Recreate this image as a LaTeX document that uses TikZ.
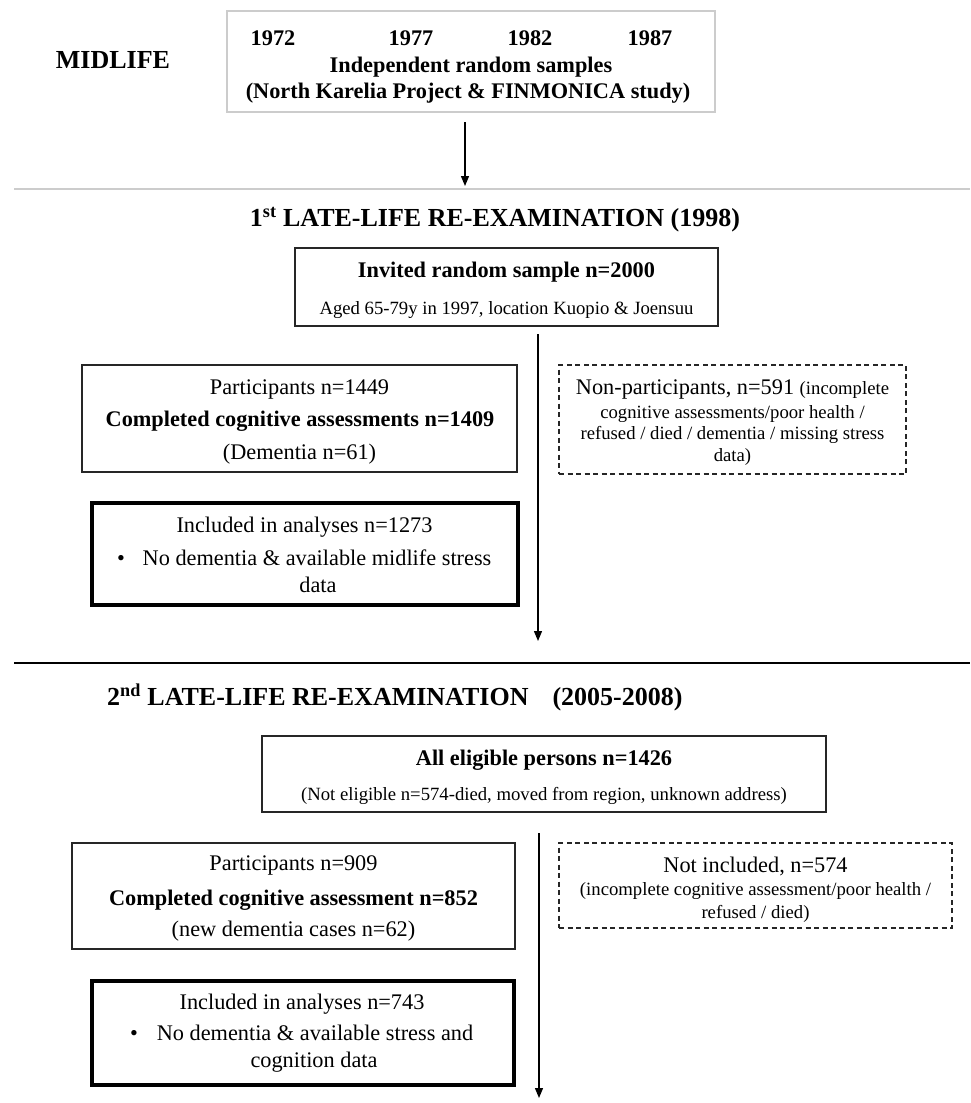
\documentclass[tikz,border=0pt]{standalone}
\usepackage{fontspec}
\setmainfont{Liberation Serif}
\usetikzlibrary{arrows.meta}
\newcommand{\bigf}{\fontsize{22.3}{26}\selectfont}
\newcommand{\smf}{\fontsize{18.7}{22}\selectfont}
\newcommand{\headf}{\fontsize{26}{30}\selectfont\bfseries}
\begin{document}
\begin{tikzpicture}[x=1pt,y=-1pt,
  frame/.style={draw=black!85, line width=1.3pt, rectangle, inner sep=0pt},
  graybox/.style={draw=black!20, line width=2pt, rectangle, inner sep=0pt},
  thickbox/.style={draw=black, line width=3.5pt, rectangle, inner sep=0pt},
  dashbox/.style={draw=black!85, line width=1.3pt, rectangle, inner sep=0pt, dash pattern=on 5pt off 3.5pt},
  txt/.style={anchor=base, inner sep=0pt, font=\bigf},
  btxt/.style={anchor=base, inner sep=0pt, font=\bigf\bfseries},
  stxt/.style={anchor=base, inner sep=0pt, font=\smf},
  htxt/.style={anchor=base, inner sep=0pt, font=\headf},
  flow/.style={draw=black, line width=1.3pt, -{Triangle[width=8pt,length=10pt]}},
  sep/.style={line width=2pt}
]
\useasboundingbox (0,0) rectangle (970,1103);
\fill[white] (0,0) rectangle (970,1103);

% ---------- MIDLIFE ----------
\node[htxt] (mid) at (113,68.5) {MIDLIFE};
\node[graybox, minimum width=488pt, minimum height=101pt] (topbox) at (471,61.5) {};
\node[btxt] (y1) at (273,45) {1972};
\node[btxt] (y2) at (411,45) {1977};
\node[btxt] (y3) at (530,45) {1982};
\node[btxt] (y4) at (650,45) {1987};
\node[btxt] (ind) at (471,72) {Independent random samples};
\node[btxt] (nk) at (468,98) {(North Karelia Project \& FINMONICA study)};

\coordinate (a1s) at (465,122);
\coordinate (a1e) at (465,186);
\draw[flow] (a1s) -- (a1e);

\coordinate (g1) at (14,189);
\coordinate (g2) at (970,189);
\draw[sep, draw=black!20] (g1) -- (g2);

% ---------- 1st late-life ----------
\node[htxt] (h1) at (495,226.5) {1\textsuperscript{st} LATE-LIFE RE-EXAMINATION (1998)};

\node[frame, minimum width=423pt, minimum height=78pt] (inv) at (506.5,287) {};
\node[btxt] (invt) at (506.5,277) {Invited random sample n=2000};
\node[stxt] (invs) at (506.5,314) {Aged 65-79y in 1997, location Kuopio \& Joensuu};

\coordinate (a2s) at (538,334);
\coordinate (a2e) at (538,641);
\draw[flow] (a2s) -- (a2e);

\node[frame, minimum width=435pt, minimum height=107pt] (p1) at (299.5,418.5) {};
\node[txt] (p1a) at (299.5,394) {Participants n=1449};
\node[btxt] (p1b) at (300,426) {Completed cognitive assessments n=1409};
\node[txt] (p1c) at (299.5,459) {(Dementia n=61)};

\node[thickbox, minimum width=426pt, minimum height=102pt] (i1) at (305,554) {};
\node[txt] (i1a) at (304.5,532) {Included in analyses n=1273};
\node[txt] (i1bul) at (121,565) {\textbullet};
\node[txt] (i1b) at (317,565) {No dementia \& available midlife stress};
\node[txt] (i1c) at (318,592) {data};

\node[dashbox, minimum width=347pt, minimum height=109pt] (np) at (732.5,419.5) {};
\node[txt] (npa) at (732.5,394) {Non-participants, n=591 {\smf (incomplete}};
\node[stxt] (npb) at (732.5,418) {cognitive assessments/poor health /};
\node[stxt] (npc) at (732.5,439) {refused / died / dementia / missing stress};
\node[stxt] (npd) at (732.5,461) {data)};

\coordinate (b1) at (14,663);
\coordinate (b2) at (970,663);
\draw[line width=2.5pt] (b1) -- (b2);

% ---------- 2nd late-life ----------
\node[htxt, anchor=base west] (h2) at (107,705.5) {2\textsuperscript{nd} LATE-LIFE RE-EXAMINATION\hspace{24pt}(2005-2008)};

\node[frame, minimum width=564pt, minimum height=76pt] (ae) at (544,774) {};
\node[btxt] (aea) at (544,765) {All eligible persons n=1426};
\node[stxt] (aeb) at (544,800) {(Not eligible n=574-died, moved from region, unknown address)};

\coordinate (a3s) at (539,833);
\coordinate (a3e) at (539,1098);
\draw[flow] (a3s) -- (a3e);

\node[frame, minimum width=443pt, minimum height=106pt] (p2) at (293.5,896) {};
\node[txt] (p2a) at (293.5,870) {Participants n=909};
\node[btxt] (p2b) at (293.5,905) {Completed cognitive assessment n=852};
\node[txt] (p2c) at (293.5,936) {(new dementia cases n=62)};

\node[dashbox, minimum width=393pt, minimum height=85pt] (ni) at (755.5,885.5) {};
\node[txt] (nia) at (755.5,872) {Not included, n=574};
\node[stxt] (nib) at (755.5,895) {(incomplete cognitive assessment/poor health /};
\node[stxt] (nic) at (755.5,918) {refused / died)};

\node[thickbox, minimum width=422pt, minimum height=104pt] (i2) at (303,1033) {};
\node[txt] (i2a) at (302,1009) {Included in analyses n=743};
\node[txt] (i2bul) at (134,1040) {\textbullet};
\node[txt] (i2b) at (315,1040) {No dementia \& available stress and};
\node[txt] (i2c) at (314,1067) {cognition data};
\end{tikzpicture}
\end{document}
